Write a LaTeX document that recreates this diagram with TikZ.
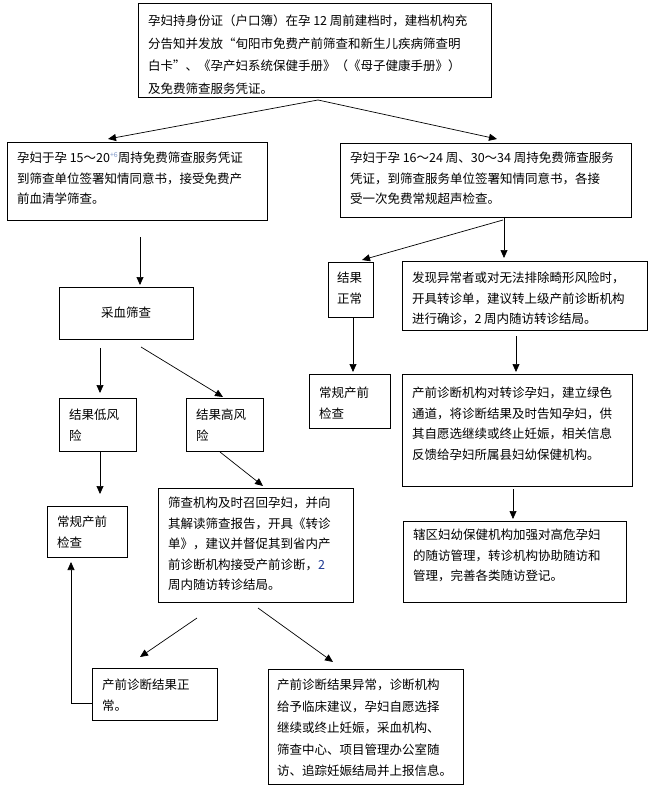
\documentclass[tikz,border=0pt]{standalone}
\usepackage{fontspec}
\setmainfont{Noto Sans CJK SC}
\usetikzlibrary{arrows.meta}
\definecolor{supc}{HTML}{7F98C8}
\definecolor{numc}{HTML}{1F3A93}
\newcommand\bxt[4]{\parbox[c][#2pt][t]{#1pt}{\raggedright\vspace*{#3pt}#4}}
\begin{document}
\begin{tikzpicture}[x=1pt,y=-1pt,
  bx/.style={draw, line width=0.9pt, anchor=north west, inner xsep=10pt, inner ysep=0pt, outer sep=0pt, font=\fontsize{12.5}{20.5}\selectfont},
  ar/.style={-{Triangle[length=8pt,width=7pt]}, line width=0.7pt}]
\useasboundingbox (0,0) rectangle (653,786);

% boxes
\node[bx, font=\fontsize{12.5}{22.5}\selectfont] (A) at (138,3) {\bxt{333}{94}{12}{孕妇持身份证（户口簿）在孕 12 周前建档时，建档机构充\\分告知并发放“旬阳市免费产前筛查和新生儿疾病筛查明\\白卡”、《孕产妇系统保健手册》（《母子健康手册》）\\及免费筛查服务凭证。}};
\node[bx] (B) at (7,142) {\bxt{240}{78}{10}{孕妇于孕 15～20\textcolor{supc}{\raisebox{5pt}{\fontsize{7}{7}\selectfont +6}}周持免费筛查服务凭证\\到筛查单位签署知情同意书，接受免费产\\前血清学筛查。}};
\node[bx] (C) at (340,143) {\bxt{271}{74}{9}{孕妇于孕 16～24 周、30～34 周持免费筛查服务\\凭证，到筛查服务单位签署知情同意书，各接\\受一次免费常规超声检查。}};
\node[bx, minimum width=134pt, minimum height=52pt, inner sep=0pt] (D) at (59,287) {采血筛查};
\node[bx] (E) at (59,398) {\bxt{57}{53}{11}{结果低风\\险}};
\node[bx] (F) at (186,398) {\bxt{57}{53}{11}{结果高风\\险}};
\node[bx] (G) at (47,506) {\bxt{60}{51}{10}{常规产前\\检查}};
\node[bx] (H) at (158,488) {\bxt{175}{114}{9}{筛查机构及时召回孕妇，并向\\其解读筛查报告，开具《转诊\\单》，建议并督促其到省内产\\前诊断机构接受产前诊断，{\color{numc}2}\\周内随访转诊结局。}};
\node[bx, inner xsep=9pt] (I) at (328,262) {\bxt{27}{55}{10}{结果\\正常}};
\node[bx] (J) at (402,261) {\bxt{225}{69}{11}{发现异常者或对无法排除畸形风险时，\\开具转诊单，建议转上级产前诊断机构\\进行确诊，2 周内随访转诊结局。}};
\node[bx] (K) at (309,374) {\bxt{61}{54}{13}{常规产前\\检查}};
\node[bx] (L) at (402,374) {\bxt{210}{112}{13}{产前诊断机构对转诊孕妇，建立绿色\\通道，将诊断结果及时告知孕妇，供\\其自愿选继续或终止妊娠，相关信息\\反馈给孕妇所属县妇幼保健机构。}};
\node[bx] (M) at (403,521) {\bxt{203}{81}{8}{辖区妇幼保健机构加强对高危孕妇\\的随访管理，转诊机构协助随访和\\管理，完善各类随访登记。}};
\node[bx] (N) at (92,668) {\bxt{105}{52}{11}{产前诊断结果正\\常。}};
\node[bx, inner xsep=9pt, font=\fontsize{12.5}{21.5}\selectfont] (O) at (268,669) {\bxt{177}{115}{10}{产前诊断结果异常，诊断机构\\给予临床建议，孕妇自愿选择\\继续或终止妊娠，采血机构、\\筛查中心、项目管理办公室随\\访、追踪妊娠结局并上报信息。}};

% connector end points
\coordinate (a0) at (318,100);
\coordinate (b1) at (108,139);
\coordinate (c1) at (497,139);
\coordinate (b0) at (140,237);
\coordinate (d1) at (140,285);
\coordinate (d0) at (100,348);
\coordinate (e1) at (100,393);
\coordinate (d2) at (141,347);
\coordinate (f1) at (223,397);
\coordinate (e0) at (100,451);
\coordinate (g1) at (100,494);
\coordinate (f0) at (220,452);
\coordinate (h1) at (263,486);
\coordinate (c0) at (504,217);
\coordinate (j1) at (504,258);
\coordinate (c2) at (503,220);
\coordinate (i1) at (362,260);
\coordinate (i0) at (353,317);
\coordinate (k1) at (353,372);
\coordinate (j0) at (516,336);
\coordinate (l1) at (516,372);
\coordinate (l0) at (513,489);
\coordinate (m1) at (513,519);
\coordinate (h0) at (197,618);
\coordinate (n1) at (140,657);
\coordinate (h2) at (258,608);
\coordinate (o1) at (333,662);
\coordinate (n0) at (71,703);
\coordinate (g2) at (71,562);

% connectors
\draw[ar] (a0) -- (b1);
\draw[ar] (a0) -- (c1);
\draw[ar] (b0) -- (d1);
\draw[ar] (d0) -- (e1);
\draw[ar] (d2) -- (f1);
\draw[ar] (e0) -- (g1);
\draw[ar] (f0) -- (h1);
\draw[ar] (c0) -- (j1);
\draw[ar] (c2) -- (i1);
\draw[ar] (i0) -- (k1);
\draw[ar] (j0) -- (l1);
\draw[ar] (l0) -- (m1);
\draw[ar] (h0) -- (n1);
\draw[ar] (h2) -- (o1);
\draw[ar] (N.west |- n0) -- (n0) -- (g2);
\end{tikzpicture}
\end{document}
